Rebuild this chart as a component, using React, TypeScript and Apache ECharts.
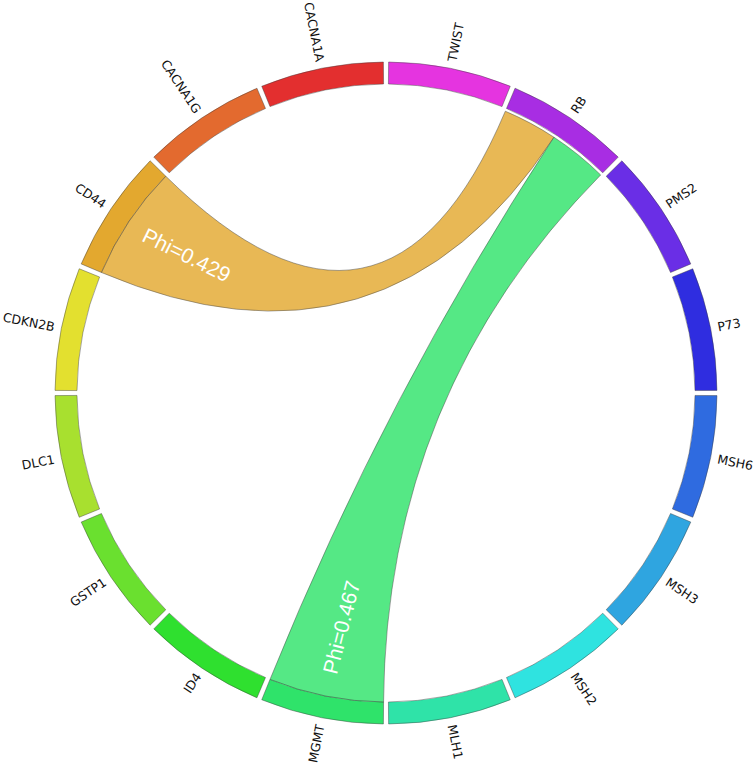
import React, { useEffect, useRef } from "react";
import * as echarts from "echarts";

// Gene segments, clockwise from 12 o'clock
const genes = [
  "TWIST", "RB", "PMS2", "P73", "MSH6", "MSH3", "MSH2", "MLH1",
  "MGMT", "ID4", "GSTP1", "DLC1", "CDKN2B", "CD44", "CACNA1G", "CACNA1A",
];
const geneColors = [
  "#e534e0", "#a82de3", "#6a2ee6", "#2f2de0", "#2f6be0", "#2fa5e0", "#2fe3e0", "#2fe3a8",
  "#2fe36a", "#2fe02f", "#6ae02f", "#a8e02f", "#e3e02f", "#e3a82f", "#e36a2f", "#e32f2f",
];

// Links (chords)
const linkSource = ["RB", "RB"];
const linkTarget = ["CD44", "MGMT"];
const linkPhi = [0.429, 0.467];
const linkLabels = ["Phi=0.429", "Phi=0.467"];

// Layout constants
const CX = 386;
const CY = 393;
const R_OUT = 331;
const R_IN = 309;
const PAD = 0.45; // degrees each side
const LABEL_GAP = 7;
const SOURCE_GAP = 3;
const LABEL_T = 0.115;

const STEP = 360 / genes.length;

function pt(theta: number, r: number): [number, number] {
  const a = (theta * Math.PI) / 180;
  return [CX + r * Math.sin(a), CY - r * Math.cos(a)];
}

function segStart(i: number) {
  return i * STEP + PAD;
}
function segEnd(i: number) {
  return (i + 1) * STEP - PAD;
}

// allocate each link's arc within each gene segment proportionally
function allocate() {
  const srcArc: [number, number][] = [];
  const tgtArc: [number, number][] = [];
  genes.forEach((g, gi) => {
    const members: { k: number; side: "s" | "t" }[] = [];
    linkPhi.forEach((_, k) => {
      if (linkSource[k] === g) members.push({ k, side: "s" });
      if (linkTarget[k] === g) members.push({ k, side: "t" });
    });
    const total = members.reduce((a, m) => a + linkPhi[m.k], 0);
    const a0 = segStart(gi);
    const span = segEnd(gi) - a0;
    let cur = a0;
    members.forEach((m) => {
      const w = (linkPhi[m.k] / total) * span;
      const arc: [number, number] = [cur, cur + w];
      if (m.side === "s") srcArc[m.k] = arc;
      else tgtArc[m.k] = arc;
      cur += w;
    });
  });
  return { srcArc, tgtArc };
}

function withAlpha(hex: string, a: number) {
  const r = parseInt(hex.slice(1, 3), 16);
  const g = parseInt(hex.slice(3, 5), 16);
  const b = parseInt(hex.slice(5, 7), 16);
  return `rgba(${r},${g},${b},${a})`;
}

export default function App() {
  const ref = useRef<HTMLDivElement>(null);

  useEffect(() => {
    if (!ref.current) return;
    const chart = echarts.init(ref.current, undefined, { renderer: "svg" });
    const { srcArc, tgtArc } = allocate();

    const option: any = {
      animation: false,
      backgroundColor: "#ffffff",
      series: [
        {
          type: "custom",
          coordinateSystem: "none",
          data: genes.map((_, i) => [i]),
          renderItem: (params: any) => {
            const i = params.dataIndex;
            const s = segStart(i);
            const e = segEnd(i);
            const mid = (i + 0.5) * STEP;
            const [lx, ly] = pt(mid, R_OUT + LABEL_GAP);
            const right = mid < 180;
            const rotDeg = right ? 90 - mid : 270 - mid;
            return {
              type: "group",
              children: [
                {
                  type: "sector",
                  shape: {
                    cx: CX,
                    cy: CY,
                    r0: R_IN,
                    r: R_OUT,
                    startAngle: ((s - 90) * Math.PI) / 180,
                    endAngle: ((e - 90) * Math.PI) / 180,
                    clockwise: true,
                  },
                  style: {
                    fill: geneColors[i],
                    stroke: "rgba(60,60,60,0.55)",
                    lineWidth: 0.8,
                  },
                },
                {
                  type: "text",
                  x: lx,
                  y: ly,
                  rotation: (rotDeg * Math.PI) / 180,
                  style: {
                    text: genes[i],
                    fill: "#111111",
                    font: '12.5px "DejaVu Sans"',
                    align: right ? "left" : "right",
                    verticalAlign: "middle",
                  },
                },
              ],
            };
          },
        },
        {
          type: "custom",
          coordinateSystem: "none",
          data: linkPhi.map((v, k) => [k, v]),
          renderItem: (params: any) => {
            const k = params.dataIndex;
            const rs = R_IN - SOURCE_GAP;
            const rt = R_IN;
            const [s0, s1] = srcArc[k];
            const [t0, t1] = tgtArc[k];
            const ps0 = pt(s0, rs);
            const ps1 = pt(s1, rs);
            const pt0 = pt(t0, rt);
            const pt1 = pt(t1, rt);
            const f = (p: number[]) => `${p[0].toFixed(2)} ${p[1].toFixed(2)}`;
            const d =
              `M ${f(ps0)} A ${rs} ${rs} 0 0 1 ${f(ps1)} ` +
              `Q ${CX} ${CY} ${f(pt0)} ` +
              `A ${rt} ${rt} 0 0 1 ${f(pt1)} ` +
              `Q ${CX} ${CY} ${f(ps0)} Z`;
            const tColor = geneColors[genes.indexOf(linkTarget[k])];

            // label along centreline, near target end
            const P0 = pt((t0 + t1) / 2, rt);
            const P2 = pt((s0 + s1) / 2, rs);
            const t = LABEL_T;
            const x =
              (1 - t) * (1 - t) * P0[0] + 2 * t * (1 - t) * CX + t * t * P2[0];
            const y =
              (1 - t) * (1 - t) * P0[1] + 2 * t * (1 - t) * CY + t * t * P2[1];
            const dx = 2 * (1 - t) * (CX - P0[0]) + 2 * t * (P2[0] - CX);
            const dy = 2 * (1 - t) * (CY - P0[1]) + 2 * t * (P2[1] - CY);
            const rot = -Math.atan2(dy, dx);

            return {
              type: "group",
              children: [
                {
                  type: "path",
                  shape: { pathData: d },
                  style: {
                    fill: withAlpha(tColor, 0.82),
                    stroke: "rgba(70,70,70,0.6)",
                    lineWidth: 0.8,
                  },
                },
                {
                  type: "text",
                  x,
                  y,
                  rotation: rot,
                  style: {
                    text: linkLabels[k],
                    fill: "#ffffff",
                    font: '21px "Liberation Sans"',
                    align: "center",
                    verticalAlign: "middle",
                  },
                },
              ],
            };
          },
        },
      ],
    };

    chart.setOption(option);
    return () => chart.dispose();
  }, []);

  return (
    <div
      ref={ref}
      style={{ position: "absolute", left: 0, top: 0, width: 754, height: 767 }}
    />
  );
}
